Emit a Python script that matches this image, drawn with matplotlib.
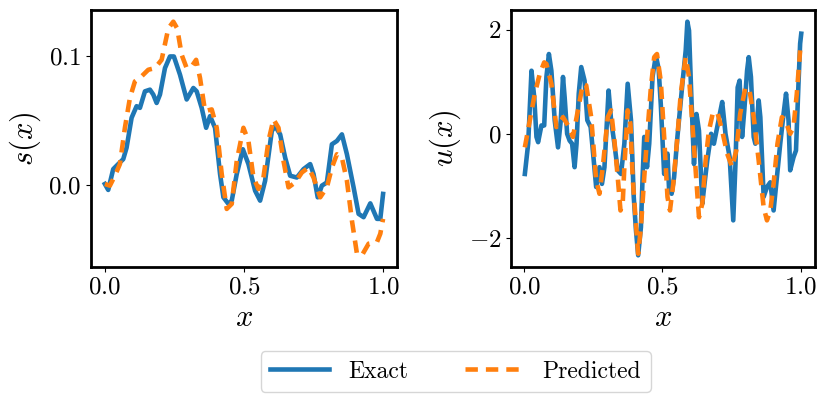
import numpy as np
import matplotlib
matplotlib.use("Agg")
import matplotlib.pyplot as plt

plt.rcParams["font.family"] = "serif"
plt.rcParams["font.serif"] = ["cmr10"]
plt.rcParams["mathtext.fontset"] = "cm"
plt.rcParams["axes.formatter.use_mathtext"] = True
plt.rcParams["axes.unicode_minus"] = True

# s(x) panel
xs_exact = [0.000, 0.012, 0.030, 0.048, 0.066, 0.078, 0.096, 0.114, 0.126, 0.144,
            0.162, 0.174, 0.186, 0.198, 0.216, 0.234, 0.248, 0.270, 0.294, 0.318,
            0.330, 0.348, 0.364, 0.378, 0.396, 0.414, 0.426, 0.444, 0.456, 0.474,
            0.496, 0.516, 0.540, 0.558, 0.576, 0.600, 0.612, 0.630, 0.648, 0.666,
            0.690, 0.714, 0.738, 0.750, 0.765, 0.780, 0.798, 0.816, 0.834, 0.852,
            0.870, 0.894, 0.912, 0.930, 0.954, 0.978, 0.990, 1.000]
s_exact = [0.0008, -0.0038, 0.0123, 0.0162, 0.0200, 0.0289, 0.0520, 0.0610, 0.0597, 0.0725,
           0.0738, 0.0700, 0.0635, 0.0700, 0.0905, 0.0995, 0.0995, 0.0854, 0.0662, 0.0751,
           0.0725, 0.0597, 0.0443, 0.0533, 0.0443, 0.0085, -0.0095, -0.0146, -0.0121, 0.0085,
           0.0277, 0.0162, -0.0044, -0.0121, 0.0033, 0.0418, 0.0456, 0.0392, 0.0212, 0.0072,
           0.0058, 0.0123, 0.0162, 0.0085, -0.0095, -0.0005, 0.0020, 0.0315, 0.0341, 0.0392,
           0.0238, -0.0018, -0.0223, -0.0249, -0.0142, -0.0262, -0.0262, -0.0069]

xs_pred = [0.000, 0.018, 0.036, 0.054, 0.072, 0.090, 0.108, 0.132, 0.156, 0.180,
           0.204, 0.228, 0.246, 0.260, 0.276, 0.294, 0.312, 0.328, 0.342, 0.360,
           0.384, 0.402, 0.420, 0.438, 0.456, 0.474, 0.498, 0.516, 0.534, 0.552,
           0.570, 0.588, 0.606, 0.624, 0.642, 0.660, 0.684, 0.708, 0.732, 0.750,
           0.774, 0.798, 0.816, 0.834, 0.852, 0.870, 0.888, 0.906, 0.924, 0.948,
           0.978, 0.990, 1.000]
s_pred = [0.0008, -0.0005, 0.0072, 0.0162, 0.0443, 0.0674, 0.0802, 0.0841, 0.0892, 0.0905,
          0.0969, 0.1212, 0.1264, 0.1212, 0.1008, 0.0905, 0.0918, 0.0969, 0.0828, 0.0572,
          0.0585, 0.0443, 0.0085, -0.0185, -0.0146, 0.0187, 0.0443, 0.0341, 0.0058, -0.0031,
          0.0058, 0.0341, 0.0508, 0.0443, 0.0187, -0.0018, 0.0020, 0.0097, 0.0135, 0.0058,
          -0.0095, -0.0018, 0.0135, 0.0238, 0.0212, 0.0033, -0.0275, -0.0531, -0.0544, -0.0454,
          -0.0442, -0.0377, -0.0262]

# u(x) panel
xu_exact = [0.002, 0.014, 0.026, 0.036, 0.044, 0.050, 0.062, 0.072, 0.080, 0.089,
            0.098, 0.110, 0.122, 0.132, 0.140, 0.146, 0.155, 0.164, 0.173, 0.182,
            0.189, 0.197, 0.206, 0.218, 0.228, 0.240, 0.249, 0.260, 0.272, 0.281,
            0.290, 0.305, 0.314, 0.326, 0.338, 0.350, 0.362, 0.374, 0.386, 0.396,
            0.404, 0.412, 0.422, 0.428, 0.434, 0.444, 0.452, 0.464, 0.476, 0.486,
            0.494, 0.506, 0.518, 0.524, 0.533, 0.542, 0.554, 0.572, 0.584, 0.590,
            0.596, 0.604, 0.614, 0.623, 0.632, 0.644, 0.652, 0.662, 0.676, 0.686,
            0.698, 0.710, 0.716, 0.728, 0.743, 0.756, 0.764, 0.772, 0.779, 0.788,
            0.796, 0.806, 0.812, 0.820, 0.830, 0.836, 0.848, 0.854, 0.866, 0.878,
            0.890, 0.902, 0.914, 0.926, 0.938, 0.947, 0.956, 0.962, 0.974, 0.983,
            0.992, 0.998, 1.002]
u_exact = [-0.77, -0.19, 1.21, 0.70, -0.06, -0.16, 0.16, 0.16, 1.09, 1.53,
           1.21, 0.26, -0.26, 0.26, 1.09, 0.70, 0.00, -0.13, -0.19, -0.64,
           -0.19, 0.77, 1.28, 1.02, 0.26, 0.13, -0.38, -1.02, -0.64, -0.96,
           -0.64, 0.83, 0.26, -0.19, -0.70, -0.77, -0.19, 0.96, 0.26, -1.21,
           -1.85, -2.33, -1.79, -0.83, -0.06, -0.64, -0.19, 1.09, 1.50, 1.25,
           0.55, -0.77, -0.38, -1.09, -1.15, -0.83, -0.06, 0.96, 1.60, 2.15,
           1.98, 0.77, -0.58, 0.38, 0.06, -1.34, -0.96, -0.51, 0.00, -0.19,
           0.13, 0.45, 0.61, 0.00, -0.45, -1.66, -0.58, 0.89, 1.02, -0.06,
           0.45, 1.21, 1.47, 1.09, -0.06, -0.19, 0.64, 0.32, -1.21, -1.02,
           -0.93, -1.47, -0.83, -0.19, 0.38, 0.77, 0.26, -0.70, -0.45, -0.32,
           0.96, 1.73, 1.92]

xu_pred = [0.002, 0.020, 0.038, 0.056, 0.072, 0.080, 0.098, 0.116, 0.128, 0.140,
           0.158, 0.176, 0.194, 0.212, 0.224, 0.242, 0.260, 0.272, 0.284, 0.302,
           0.314, 0.326, 0.338, 0.348, 0.356, 0.362, 0.374, 0.384, 0.392, 0.404,
           0.412, 0.422, 0.434, 0.446, 0.458, 0.470, 0.480, 0.494, 0.506, 0.518,
           0.527, 0.539, 0.554, 0.566, 0.584, 0.596, 0.608, 0.620, 0.632, 0.644,
           0.656, 0.668, 0.683, 0.700, 0.716, 0.734, 0.752, 0.767, 0.781, 0.800,
           0.815, 0.830, 0.848, 0.866, 0.878, 0.890, 0.902, 0.916, 0.932, 0.944,
           0.962, 0.974, 0.986, 0.998]
u_pred = [-0.26, 0.26, 0.77, 1.15, 1.37, 1.34, 0.96, 0.13, 0.19, 0.32,
          0.16, -0.06, 0.45, 0.96, 0.93, 0.32, -0.89, -1.15, -0.64, 0.32,
          0.45, -0.13, -0.83, -1.47, -1.34, -0.64, 0.45, 0.19, -0.83, -1.73,
          -2.30, -1.79, -0.83, 0.06, 0.89, 1.47, 1.53, 1.00, -0.06, -1.21,
          -1.47, -0.96, -0.06, 0.77, 1.47, 1.09, 0.19, -0.70, -1.60, -1.34,
          -0.51, 0.06, 0.42, 0.38, 0.06, -0.38, -0.64, -0.32, 0.38, 0.89,
          0.83, 0.32, -0.51, -1.41, -1.66, -1.47, -0.96, -0.19, 0.32, 0.26,
          0.00, 0.13, 0.77, 1.60]

blue = "#1f77b4"
orange = "#ff7f0e"
lw = 3.3
dash = (2.7, 1.75)

fig = plt.figure(figsize=(8.3, 4.07), dpi=100)
ax1 = fig.add_axes([0.1096, 0.344, 0.3687, 0.6314])
ax2 = fig.add_axes([0.6157, 0.344, 0.3663, 0.6314])

ax1.plot(xs_exact, s_exact, color=blue, lw=lw, label="Exact")
ax1.plot(xs_pred, s_pred, color=orange, lw=lw, ls=(0, dash), label="Predicted")
ax1.set_ylabel("$s(x)$", fontsize=22)
ax1.set_yticks([0.0, 0.1])

ax2.plot(xu_exact, u_exact, color=blue, lw=lw)
ax2.plot(xu_pred, u_pred, color=orange, lw=lw, ls=(0, dash))
ax2.set_ylabel("$u(x)$", fontsize=22)
ax2.set_yticks([-2, 0, 2])

for ax in (ax1, ax2):
    ax.set_xlabel("$x$", fontsize=22)
    ax.set_xticks([0.0, 0.5, 1.0])
    ax.tick_params(labelsize=18)
    for sp in ax.spines.values():
        sp.set_linewidth(2)

fig.legend(loc="upper center", bbox_to_anchor=(0.549, 0.1376), ncol=2,
           fontsize=17, handlelength=2.5, columnspacing=2.4, borderaxespad=0)

fig.savefig("out.png", dpi=100)
